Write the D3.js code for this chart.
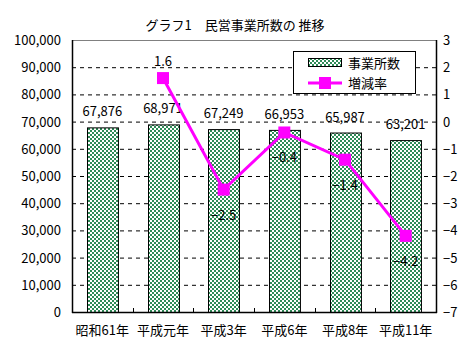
<!DOCTYPE html>
<html><head><meta charset="utf-8">
<script src="https://cdn.jsdelivr.net/npm/d3@7"></script>
<style>body{margin:0;background:#fff}svg{display:block}text{font-family:"Noto Sans CJK JP","DejaVu Sans",sans-serif;fill:#000}</style>
</head><body><svg id="c" width="470" height="360"></svg>
<script>
const categories = ["昭和61年","平成元年","平成3年","平成6年","平成8年","平成11年"];
const establishments = [67876, 68971, 67249, 66953, 65987, 63201];
const rateCats = ["平成元年","平成3年","平成6年","平成8年","平成11年"];
const rates = [1.6, -2.5, -0.4, -1.4, -4.2];
const leftTicks = [0,10000,20000,30000,40000,50000,60000,70000,80000,90000,100000];
const rightTicks = [-7,-6,-5,-4,-3,-2,-1,0,1,2,3];
const title = "グラフ1　民営事業所数の 推移";
const seriesNames = ["事業所数","増減率"];

const svg = d3.select("#c");
const L=72, R=436, T=40, B=312;
const x = d3.scaleBand().domain(categories).range([L,R]).paddingInner(0.49).paddingOuter(0.245);
const yL = d3.scaleLinear().domain([0,100000]).range([B,T]);
const yR = d3.scaleLinear().domain([-7,3]).range([B,T]);
const cx = c => x(c)+x.bandwidth()/2;

const defs = svg.append("defs");
const p = defs.append("pattern").attr("id","chk").attr("patternUnits","userSpaceOnUse").attr("width",4).attr("height",4);
p.append("rect").attr("width",4).attr("height",4).attr("fill","#fff");
p.append("rect").attr("width",2).attr("height",2).attr("fill","#2e8b57");
p.append("rect").attr("x",2).attr("y",2).attr("width",2).attr("height",2).attr("fill","#2e8b57");

svg.append("text").attr("x",235).attr("y",30).attr("text-anchor","middle").attr("font-size",13).text(title);

// gridlines
svg.append("g").selectAll("line").data(leftTicks.filter(v=>v>0&&v<100000)).join("line")
  .attr("x1",L).attr("x2",R).attr("y1",d=>yL(d)+0.5).attr("y2",d=>yL(d)+0.5)
  .attr("stroke","#000").attr("stroke-dasharray","4,4");

// bars
svg.append("g").selectAll("rect").data(establishments).join("rect")
  .attr("x",(d,i)=>Math.round(x(categories[i]))+0.5).attr("y",d=>yL(d)+0.5)
  .attr("width",x.bandwidth()).attr("height",d=>B-yL(d))
  .attr("fill","url(#chk)").attr("stroke","#000").attr("stroke-width",1);
svg.append("g").selectAll("text").data(establishments).join("text")
  .attr("x",(d,i)=>cx(categories[i])).attr("y",d=>yL(d)-11)
  .attr("text-anchor","middle").attr("font-size",13).text(d=>d3.format(",")(d));

// frame
svg.append("line").attr("x1",L).attr("x2",R).attr("y1",T+0.5).attr("y2",T+0.5).attr("stroke","#808080");
svg.append("line").attr("x1",L+0.5).attr("x2",L+0.5).attr("y1",T).attr("y2",B+1).attr("stroke","#000").attr("stroke-width",1.5);
svg.append("line").attr("x1",R+0.5).attr("x2",R+0.5).attr("y1",T).attr("y2",B+1).attr("stroke","#000").attr("stroke-width",1.5);
svg.append("line").attr("x1",L).attr("x2",R+1).attr("y1",B+0.5).attr("y2",B+0.5).attr("stroke","#000").attr("stroke-width",1.5);
// category ticks
svg.append("g").selectAll("line").data(d3.range(1,categories.length)).join("line")
  .attr("x1",i=>Math.round(L+(R-L)*i/categories.length)+0.5).attr("x2",i=>Math.round(L+(R-L)*i/categories.length)+0.5)
  .attr("y1",B-4).attr("y2",B).attr("stroke","#000");

// axes labels
svg.append("g").selectAll("text").data(leftTicks).join("text")
  .attr("x",61).attr("y",d=>yL(d)+5).attr("text-anchor","end").attr("font-size",13).text(d=>d3.format(",")(d));
svg.append("g").selectAll("text").data(rightTicks).join("text")
  .attr("x",443).attr("y",d=>yR(d)+5).attr("font-size",13).text(d=>d<0?"−"+(-d):d);
svg.append("g").selectAll("text").data(categories).join("text")
  .attr("x",d=>cx(d)).attr("y",335).attr("text-anchor","middle").attr("font-size",13).text(d=>d);

// line
const line = d3.line().x((d,i)=>cx(rateCats[i])).y(d=>yR(d));
svg.append("path").datum(rates).attr("d",line).attr("fill","none").attr("stroke","#ff00ff").attr("stroke-width",3);
svg.append("g").selectAll("rect").data(rates).join("rect")
  .attr("x",(d,i)=>cx(rateCats[i])-6).attr("y",d=>yR(d)-6).attr("width",12).attr("height",12).attr("fill","#ff00ff");
svg.append("g").selectAll("text").data(rates).join("text")
  .attr("x",(d,i)=>cx(rateCats[i])).attr("y",d=>d>0?yR(d)-12:yR(d)+30)
  .attr("text-anchor","middle").attr("font-size",13).text(d=>d>0?d:"−"+(-d));

// legend
const lg = svg.append("g");
lg.append("rect").attr("x",293.5).attr("y",51.5).attr("width",122).attr("height",42).attr("fill","#fff").attr("stroke","#000");
lg.append("rect").attr("x",308.5).attr("y",58.5).attr("width",33).attr("height",8).attr("fill","url(#chk)").attr("stroke","#000");
lg.append("text").attr("x",348).attr("y",68).attr("font-size",13).text(seriesNames[0]);
lg.append("line").attr("x1",308).attr("x2",342).attr("y1",83).attr("y2",83).attr("stroke","#ff00ff").attr("stroke-width",3);
lg.append("rect").attr("x",319).attr("y",77).attr("width",12).attr("height",12).attr("fill","#ff00ff");
lg.append("text").attr("x",348).attr("y",88).attr("font-size",13).text(seriesNames[1]);
</script></body></html>
